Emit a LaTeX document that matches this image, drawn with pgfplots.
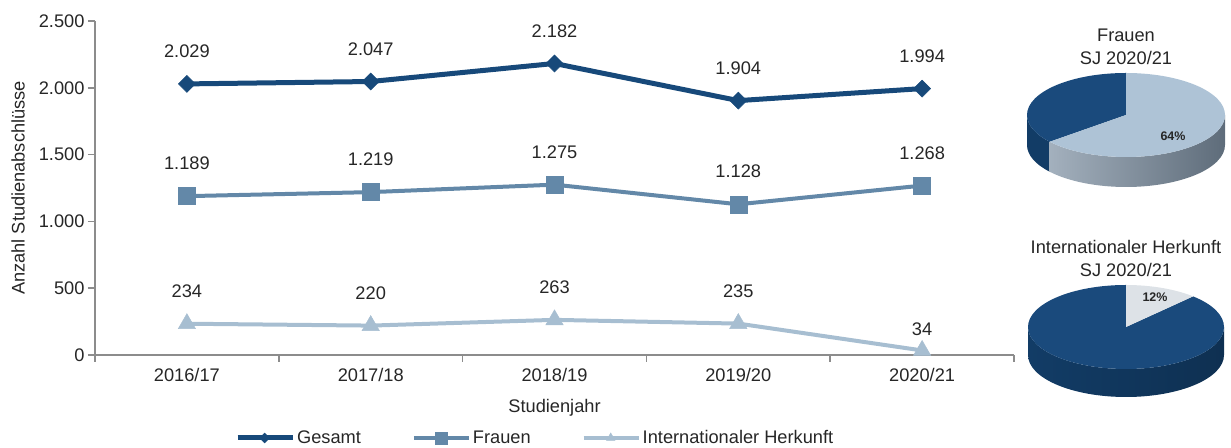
\documentclass[border=0pt]{standalone}
\usepackage{pgfplots}
\pgfplotsset{compat=1.18}
\usepackage{fontspec}
\setmainfont{Liberation Sans}
\definecolor{cG}{HTML}{17497A}
\definecolor{cF}{HTML}{6388A8}
\definecolor{cI}{HTML}{A7BED1}
\definecolor{axg}{HTML}{8C8C8C}
\definecolor{txt}{HTML}{262626}
\definecolor{pdark}{HTML}{1A4A7C}
\definecolor{pdarkside}{HTML}{123C66}
\definecolor{plight}{HTML}{AEC3D6}
\definecolor{plightsideA}{HTML}{A3B0BD}
\definecolor{plightsideB}{HTML}{5E6C7A}
\definecolor{pvlight}{HTML}{DDE2E7}
\newcommand\fs{\fontsize{18.3}{23}\selectfont}

\begin{document}
\begin{tikzpicture}[x=1bp,y=1bp]
\useasboundingbox (0,0) rectangle (1231,448);
\begin{axis}[
  at={(95bp,93bp)}, anchor=south west, scale only axis,
  width=919bp, height=334bp,
  xmin=-0.5, xmax=4.5, ymin=0, ymax=2500,
  axis x line=bottom, axis y line=left,
  axis line style={-, draw=axg, line width=2bp},
  tick align=outside,
  major tick length=7bp, minor tick length=7bp,
  ytick={0,500,1000,1500,2000,2500},
  y tick style={draw=axg, line width=1.5bp},
  xtick={0,1,2,3,4},
  xticklabels={2016/17,2017/18,2018/19,2019/20,2020/21},
  major x tick style={draw=none},
  minor xtick={-0.5,0.5,1.5,2.5,3.5,4.5},
  minor x tick style={draw=axg, line width=1.5bp},
  ticklabel style={font=\fs, text=txt},
  xticklabel style={yshift=-3bp},
  scaled y ticks=false,
  xlabel={Studienjahr},
  ylabel={Anzahl Studienabschlüsse},
  label style={font=\fs, text=txt},
  xlabel style={at={(axis description cs:0.5,-0.1587)}, anchor=center},
  ylabel style={at={(axis description cs:-0.0838,0.5)}, anchor=center},
  every node near coord/.append style={font=\fs, text=txt, inner sep=0pt, anchor=south, yshift=26bp},
  legend style={at={(0.479,-0.2485)}, anchor=center, draw=none, fill=none, font=\fs, text=txt,
    /tikz/every even column/.append style={column sep=49bp}},
  legend columns=-1,
  legend cell align=left,
  /pgf/number format/1000 sep={.},
  /pgf/number format/fixed,
  /pgf/number format/precision=0,
  /pgf/number format/assume math mode=true,
  clip=false,
]
\addplot[cG, line width=5bp, mark=square*, mark options={rotate=45, line width=0.5bp}, mark size=6bp,
  nodes near coords,
  legend image code/.code={\draw[line width=5bp, mark repeat=2, mark phase=2, mark size=3.5bp] plot coordinates {(0bp,0bp) (27bp,0bp) (55bp,0bp)};}]
  coordinates {(0,2029) (1,2047) (2,2182) (3,1904) (4,1994)};
\addlegendentry{Gesamt}
\addplot[cF, line width=4bp, mark=square*, mark options={line width=0.5bp}, mark size=8.5bp,
  nodes near coords,
  legend image code/.code={\draw[line width=4bp, mark repeat=2, mark phase=2, mark size=6bp] plot coordinates {(0bp,0bp) (27bp,0bp) (55bp,0bp)};}]
  coordinates {(0,1189) (1,1219) (2,1275) (3,1128) (4,1268)};
\addlegendentry{Frauen}
\addplot[cI, line width=4bp, mark=triangle*, mark options={line width=0.5bp}, mark size=10bp,
  legend image code/.code={\draw[line width=4bp, mark repeat=2, mark phase=2, mark size=5bp] plot coordinates {(0bp,0bp) (27bp,0bp) (55bp,0bp)};}]
  coordinates {(0,234) (1,220) (2,263) (3,235) (4,34)};
\addlegendentry{Internationaler Herkunft}
\addplot[draw=none, mark=none, forget plot, nodes near coords]
  coordinates {(0,234) (1,220) (2,263) (3,235)};
\addplot[draw=none, mark=none, forget plot, nodes near coords,
  every node near coord/.append style={yshift=-11bp}]
  coordinates {(4,34)};
\end{axis}

% ---- Pie 1: Frauen 64 % ----
\pgfmathsetmacro\fa{90-360*0.64+360}
\begin{scope}[shift={(1126,333)}]
  \fill[pdarkside] (180:99 and 42) arc[start angle=180, end angle=\fa, x radius=99, y radius=42]
     -- ++(0,-30) arc[start angle=\fa, end angle=180, x radius=99, y radius=42] -- cycle;
  \shade[left color=plightsideA, right color=plightsideB] (\fa:99 and 42) arc[start angle=\fa, end angle=360, x radius=99, y radius=42]
     -- ++(0,-30) arc[start angle=360, end angle=\fa, x radius=99, y radius=42] -- cycle;
  \fill[pdark] (0,0) -- (90:99 and 42) arc[start angle=90, end angle=\fa, x radius=99, y radius=42] -- cycle;
  \fill[plight] (0,0) -- (\fa:99 and 42) arc[start angle=\fa, end angle=450, x radius=99, y radius=42] -- cycle;
  \node[font=\fontsize{12.5}{14}\selectfont\bfseries, text=txt] at (47,-21) {64\%};
\end{scope}
\node[font=\fs, text=txt, align=center] at (1126,401.5) {Frauen\\SJ 2020/21};

% ---- Pie 2: Internationaler Herkunft 12 % ----
\pgfmathsetmacro\ia{90-360*0.12}
\begin{scope}[shift={(1126,121)}]
  \shade[left color=pdarkside, right color=pdarkside!80!black] (180:98 and 42) arc[start angle=180, end angle=360, x radius=98, y radius=42]
     -- ++(0,-28) arc[start angle=360, end angle=180, x radius=98, y radius=42] -- cycle;
  \fill[pdark] (0,0) -- (90:98 and 42) arc[start angle=90, end angle=\ia+360, x radius=98, y radius=42] -- cycle;
  \fill[pvlight] (0,0) -- (\ia:98 and 42) arc[start angle=\ia, end angle=90, x radius=98, y radius=42] -- cycle;
  \node[font=\fontsize{12.5}{14}\selectfont\bfseries, text=txt] at (29,30) {12\%};
\end{scope}
\node[font=\fs, text=txt, align=center] at (1126,189.5) {Internationaler Herkunft\\SJ 2020/21};
\end{tikzpicture}
\end{document}
